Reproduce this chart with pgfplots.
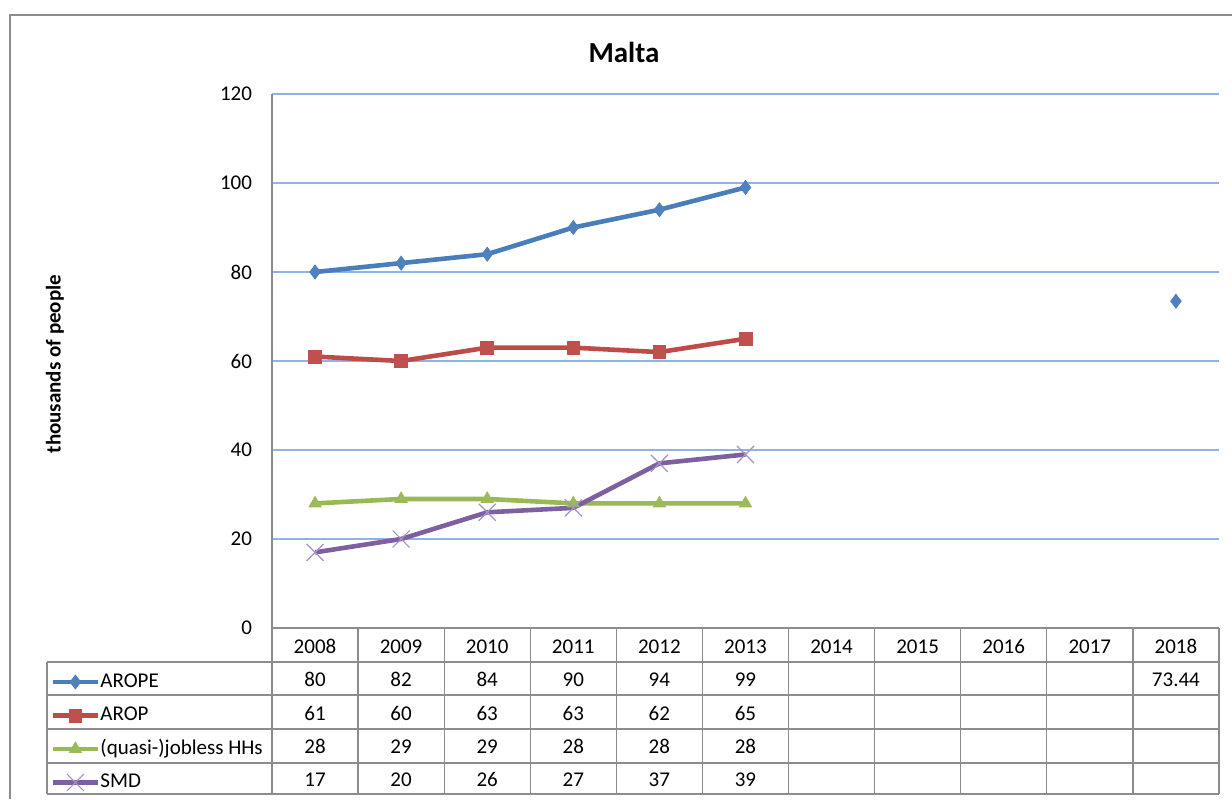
\documentclass[border=0pt]{standalone}
\usepackage{fontspec}
\setmainfont{Carlito}
\usepackage{pgfplots}
\pgfplotsset{compat=1.18}

\definecolor{aropeL}{HTML}{4A7EBB}
\definecolor{aropeM}{HTML}{4F81BD}
\definecolor{aropL}{HTML}{BE4B48}
\definecolor{aropM}{HTML}{C0504D}
\definecolor{jobL}{HTML}{98B954}
\definecolor{jobM}{HTML}{9BBB59}
\definecolor{smdL}{HTML}{7D60A0}
\definecolor{smdM}{HTML}{A592C8}
\definecolor{gridblue}{HTML}{8EB4E3}
\definecolor{axgray}{HTML}{8C8C8C}

\newcommand{\fsz}{\fontsize{10.5}{12}\selectfont}

\begin{document}
\begin{tikzpicture}
\useasboundingbox (0,0) rectangle (616pt,-399.5pt);
\begin{axis}[
  at={(136pt,-314pt)}, anchor=south west,
  scale only axis, width=473.5pt, height=267pt,
  xmin=-0.5, xmax=10.5, ymin=0, ymax=120,
  xtick=\empty, ytick={0,20,...,120},
  ymajorgrids, grid style={color=gridblue, line width=0.6pt},
  axis lines*=left, axis line style={color=axgray, line width=0.7pt},
  major tick length=0pt,
  tick label style={font=\fsz},
  yticklabel style={xshift=-6.5pt},
  /pgf/number format/assume math mode=true,
  clip=false,
  unbounded coords=jump,
  legend cell align=left,
  legend image code/.code={\draw[mark repeat=2,mark phase=2]
    plot coordinates {(0cm,0cm) (0.4cm,0cm) (0.8cm,0cm)};},
  legend style={at={(axis description cs:-0.2345,-0.0835)}, anchor=north west,
    draw=none, fill=none, inner sep=0pt, row sep=7.75pt, column sep=0pt,
    font=\fsz, nodes={inner sep=0pt, text height=7pt, text depth=2pt}},
]
\addplot[aropeL, line width=2.3pt, mark=diamond*, mark size=3.5pt,
  mark options={solid, fill=aropeM, draw=aropeM, line width=0.4pt}]
  coordinates {(0,80) (1,82) (2,84) (3,90) (4,94) (5,99) (6,nan) (10,73.44)};
\addlegendentry{AROPE}
\addplot[aropL, line width=2.3pt, mark=square*, mark size=3.2pt,
  mark options={solid, fill=aropM, draw=aropM, line width=0.4pt}]
  coordinates {(0,61) (1,60) (2,63) (3,63) (4,62) (5,65)};
\addlegendentry{AROP}
\addplot[jobL, line width=2.3pt, mark=triangle*, mark size=3.5pt,
  mark options={solid, fill=jobM, draw=jobM, line width=0.4pt}]
  coordinates {(0,28) (1,29) (2,29) (3,28) (4,28) (5,28)};
\addlegendentry{(quasi-)jobless HHs}
\addplot[smdL, line width=2.3pt, mark=x, mark size=6pt,
  mark options={solid, draw=smdM, line width=0.6pt}]
  coordinates {(0,17) (1,20) (2,26) (3,27) (4,37) (5,39)};
\addlegendentry{SMD}
\end{axis}

\begin{scope}[x=0.5pt, y=-0.5pt]
  % chart frame
  \draw[axgray, line width=0.8pt] (10,799) -- (10,15) -- (1232,15);
  % title and y label
  \node[anchor=base, font=\fontsize{14.5}{16}\selectfont\bfseries] at (624,62) {Malta};
  \node[rotate=90, font=\fsz\bfseries] at (55,364) {thousands of people};
  % data table grid
  \foreach \k in {0,...,11}
    \draw[axgray, line width=0.6pt] ({272+86.09*\k},628) -- ({272+86.09*\k},794);
  \draw[axgray, line width=0.6pt] (47,662) -- (47,794);
  \foreach \yy in {662,695,729,763,794}
    \draw[axgray, line width=0.6pt] (47,\yy) -- (1219,\yy);
  % table text
  \foreach \yr [count=\i from 0] in {2008,2009,2010,2011,2012,2013,2014,2015,2016,2017,2018}
    \node[anchor=base, font=\fsz, inner sep=0pt] at ({315+86.09*\i},653) {\yr};
  \foreach \v [count=\i from 0] in {80,82,84,90,94,99,,,,,73.44}
    \node[anchor=base, font=\fsz, inner sep=0pt] at ({315+86.09*\i},686) {\v};
  \foreach \v [count=\i from 0] in {61,60,63,63,62,65}
    \node[anchor=base, font=\fsz, inner sep=0pt] at ({315+86.09*\i},720) {\v};
  \foreach \v [count=\i from 0] in {28,29,29,28,28,28}
    \node[anchor=base, font=\fsz, inner sep=0pt] at ({315+86.09*\i},753) {\v};
  \foreach \v [count=\i from 0] in {17,20,26,27,37,39}
    \node[anchor=base, font=\fsz, inner sep=0pt] at ({315+86.09*\i},786) {\v};
\end{scope}
\end{tikzpicture}
\end{document}
